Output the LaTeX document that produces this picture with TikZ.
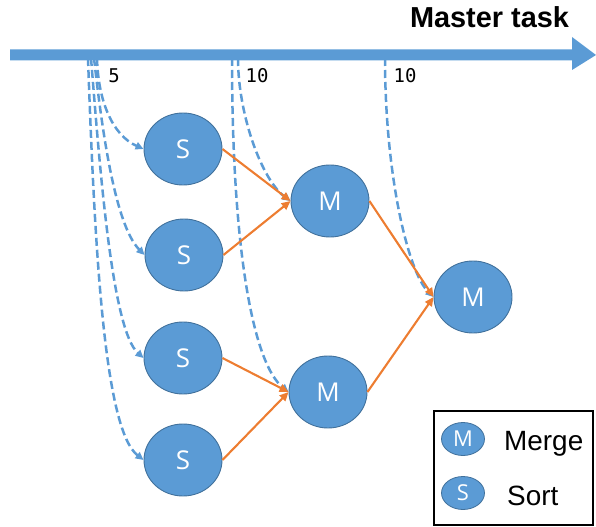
\documentclass[tikz,border=0pt]{standalone}
\usepackage{fontspec}
\setmainfont{Liberation Sans}
\newfontfamily\nodefont{Open Sans}
\newfontfamily\digitfont{DejaVu Sans Mono}
\usetikzlibrary{shapes.geometric,arrows.meta}
\definecolor{taskblue}{HTML}{5B9BD5}
\definecolor{taskedge}{HTML}{41719C}
\definecolor{flow}{HTML}{ED7D31}
\tikzset{
  task/.style={ellipse, fill=taskblue, draw=taskedge, line width=0.9bp,
    minimum width=78bp, minimum height=72bp, inner sep=0pt,
    text=white, font=\fontsize{26}{28}\nodefont},
  keytask/.style={ellipse, fill=taskblue, draw=taskedge, line width=0.8bp,
    minimum width=43bp, minimum height=33bp, inner sep=0pt,
    text=white, font=\fontsize{22}{24}\nodefont},
  spawn/.style={draw=taskblue, line width=2.5bp, dash pattern=on 8bp off 4bp,
    -{Triangle[length=8bp,width=7.5bp]}},
  feed/.style={draw=flow, line width=2.1bp, -{Triangle[length=9bp,width=8bp]}},
  count/.style={font=\fontsize{19}{21}\digitfont, anchor=base, inner sep=0pt},
}
\begin{document}
\begin{tikzpicture}[x=1bp,y=-1bp]
\useasboundingbox (0,0) rectangle (596,527);

% sort and merge tasks
\node[task] (s1) at (183,149) {S};
\node[task] (s2) at (184,255) {S};
\node[task] (s3) at (183,358) {S};
\node[task] (s4) at (183,460) {S};
\node[task] (m1) at (330,201) {M};
\node[task] (m2) at (328,392) {M};
\node[task] (m3) at (473,297) {M};

% spawn points on the master timeline
\coordinate (p1) at (97,58);
\coordinate (p2) at (94,58);
\coordinate (p3) at (91,58);
\coordinate (p4) at (88,58);
\coordinate (q1) at (238,58);
\coordinate (q2) at (232,58);
\coordinate (r1) at (385,58);

% dashed spawn connectors
\draw[spawn] (p1) .. controls (98,100) and (112,135) .. (s1.west);
\draw[spawn] (p2) .. controls (102,130) and (115,225) .. (s2.west);
\draw[spawn] (p3) .. controls (100,170) and (112,330) .. (s3.west);
\draw[spawn] (p4) .. controls (95,260) and (105,430) .. (s4.west);
\draw[spawn] (q1) .. controls (238,115) and (262,180) .. (m1.west);
\draw[spawn] (q2) .. controls (232,260) and (255,365) .. (m2.west);
\draw[spawn] (r1) .. controls (385,175) and (408,272) .. (m3.west);

% master timeline
\fill[taskblue] (10,49.5) -- (572,49.5) -- (572,37) -- (596,55) -- (572,70)
  -- (572,60.5) -- (10,60.5) -- cycle;
\node[font=\bfseries\fontsize{29}{31}\selectfont, anchor=base, inner sep=0pt]
  (title) at (489.5,28) {Master task};

% task counts
\node[count] (c1) at (114,83) {5};
\node[count] (c2) at (257,83) {10};
\node[count] (c3) at (405,83) {10};

% data flow between tasks
\draw[feed] (s1.east) -- (m1.west);
\draw[feed] (s2.east) -- (m1.west);
\draw[feed] (s3.east) -- (m2.west);
\draw[feed] (s4.east) -- (m2.west);
\draw[feed] (m1.east) -- (m3.west);
\draw[feed] (m2.east) -- (m3.west);

% legend
\draw[line width=1.5bp] (434,411) rectangle (593,525);
\node[keytask] (km) at (463,439) {M};
\node[keytask] (ks) at (463,493) {S};
\node[font=\fontsize{28}{30}\selectfont, anchor=base west, inner sep=0pt]
  (lm) at (504,450) {Merge};
\node[font=\fontsize{28}{30}\selectfont, anchor=base west, inner sep=0pt]
  (ls) at (507,505) {Sort};
\end{tikzpicture}
\end{document}
